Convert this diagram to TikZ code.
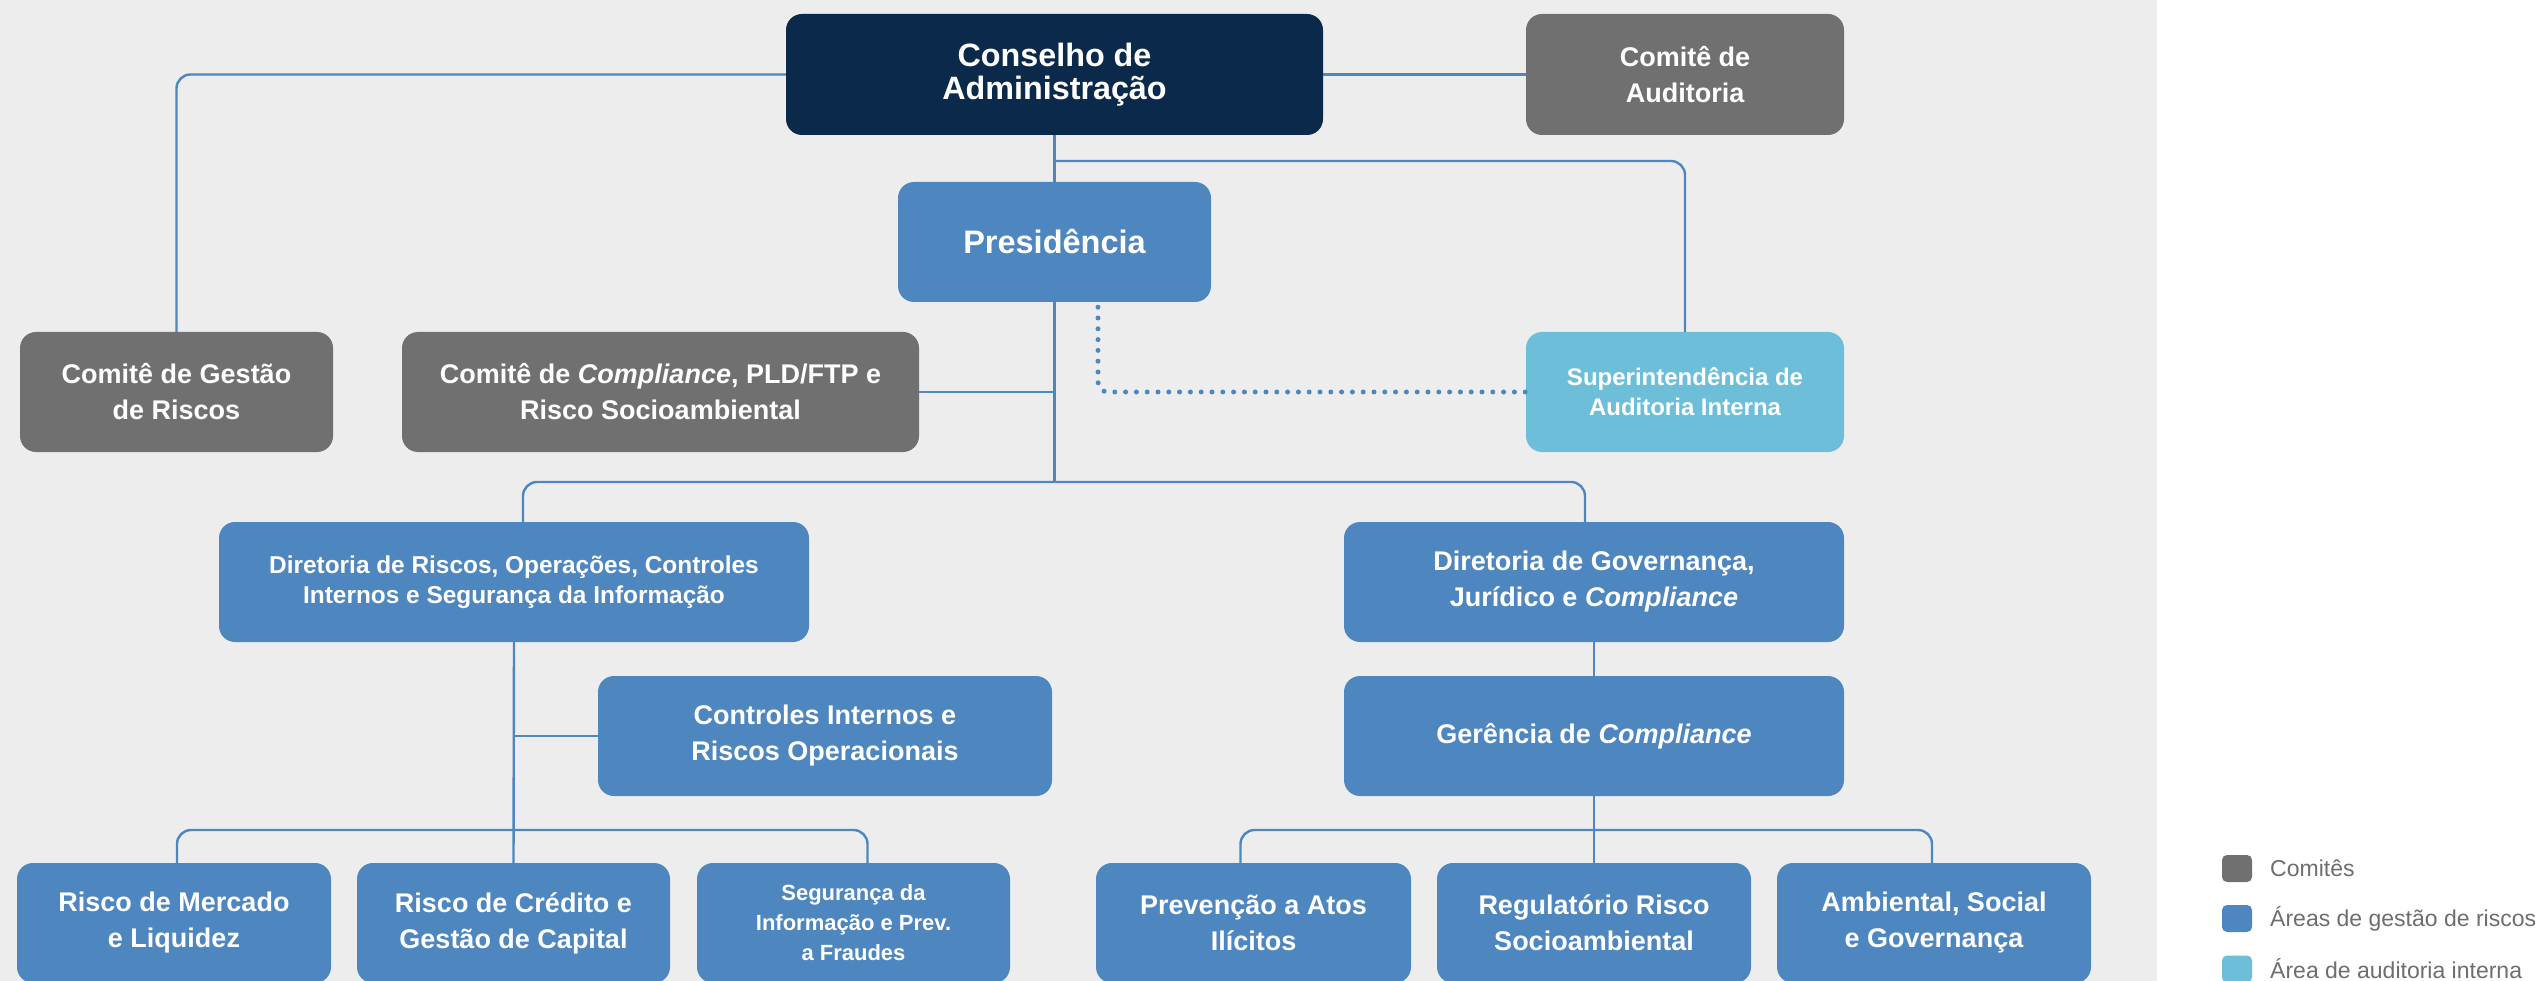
\documentclass[tikz,border=0pt]{standalone}
\usepackage{fontspec}
\setmainfont{Liberation Sans}
\definecolor{bggray}{HTML}{EDEDED}
\definecolor{navy}{HTML}{0B2A4B}
\definecolor{boxgray}{HTML}{707070}
\definecolor{midblue}{HTML}{4E86BF}
\definecolor{lightblue}{HTML}{6DBED9}
\definecolor{legendgray}{HTML}{6E6E6E}
\tikzset{
  boxbase/.style={rectangle, rounded corners=16pt, text=white, align=center, inner sep=0pt,
    font=\bfseries\fontsize{27pt}{36pt}\selectfont},
  navybox/.style={boxbase, fill=navy},
  graybox/.style={boxbase, fill=boxgray},
  bluebox/.style={boxbase, fill=midblue},
  lightbox/.style={boxbase, fill=lightblue},
  conn/.style={draw=midblue, line width=2.4pt, rounded corners=14pt},
  dotconn/.style={draw=midblue, line width=5pt, line cap=round, dash pattern=on 0pt off 10.8pt, rounded corners=10pt},
  legsq/.style={rectangle, rounded corners=5pt, minimum width=30pt, minimum height=27pt, inner sep=0pt},
  legtxt/.style={anchor=west, text=legendgray, font=\fontsize{23pt}{28pt}\selectfont, inner sep=0pt},
}
\begin{document}
\begin{tikzpicture}[x=1pt, y=-1pt]
\useasboundingbox (0,0) rectangle (2541,981);
\fill[white] (0,0) rectangle (2541,981);
\fill[bggray] (0,0) rectangle (2157,981);

% top level
\node[navybox, minimum width=537pt, minimum height=121pt, font=\bfseries\fontsize{32.3pt}{33pt}\selectfont] (cons) at (1054.5,74.5) {Conselho de\\Administração};
\node[graybox, minimum width=318pt, minimum height=121pt] (audit) at (1685,74.5) {Comitê de\\Auditoria};
\node[bluebox, minimum width=313pt, minimum height=120pt, font=\bfseries\fontsize{32.5pt}{33pt}\selectfont] (pres) at (1054.5,242) {Presidência};

% second row
\node[graybox, minimum width=313pt, minimum height=120pt] (gestao) at (176.5,392) {Comitê de Gestão\\de Riscos};
\node[graybox, minimum width=517pt, minimum height=120pt] (compl) at (660.5,392) {Comitê de \textit{Compliance}, PLD/FTP e\\Risco Socioambiental};
\node[lightbox, minimum width=318pt, minimum height=120pt, font=\bfseries\fontsize{24pt}{30pt}\selectfont] (sup) at (1685,392) {Superintendência de\\Auditoria Interna};

% directorates
\node[bluebox, minimum width=590pt, minimum height=120pt, font=\bfseries\fontsize{24.4pt}{30pt}\selectfont] (dir1) at (514,582) {Diretoria de Riscos, Operações, Controles\\Internos e Segurança da Informação};
\node[bluebox, minimum width=500pt, minimum height=120pt] (dir2) at (1594,582) {Diretoria de Governança,\\Jurídico e \textit{Compliance}};
\node[bluebox, minimum width=454pt, minimum height=120pt] (ctrl) at (825,736) {Controles Internos e\\Riscos Operacionais};
\node[bluebox, minimum width=500pt, minimum height=120pt] (ger) at (1594,736) {Gerência de \textit{Compliance}};

% bottom row
\node[bluebox, minimum width=314pt, minimum height=120pt] (merc) at (174,923) {Risco de Mercado\\e Liquidez};
\node[bluebox, minimum width=313pt, minimum height=120pt] (cred) at (513.5,923) {Risco de Crédito e\\Gestão de Capital};
\node[bluebox, minimum width=313pt, minimum height=120pt, font=\bfseries\fontsize{22pt}{30pt}\selectfont] (seg) at (853.5,923) {Segurança da\\Informação e Prev.\\a Fraudes};
\node[bluebox, minimum width=315pt, minimum height=120pt] (prev) at (1253.5,923) {Prevenção a Atos\\Ilícitos};
\node[bluebox, minimum width=314pt, minimum height=120pt] (reg) at (1594,923) {Regulatório Risco\\Socioambiental};
\node[bluebox, minimum width=314pt, minimum height=120pt] (amb) at (1934,923) {Ambiental, Social\\e Governança};

% junction coordinates
\coordinate (j1) at (1054.5,161);
\coordinate (j2) at (1054.5,482);
\coordinate (j3) at (514,830);
\coordinate (j4) at (1594,830);

% connectors
\draw[conn] (cons.west) -| (gestao.north);
\draw[conn] (cons.east) -- (audit.west);
\draw[conn] (cons.south) -- (pres.north);
\draw[conn] (j1) -| (sup.north);
\draw[conn] (pres.south) -- (j2);
\draw[conn] (compl.east) -- (compl.east -| pres.south);
\draw[conn] (j2) -| ([xshift=9pt]dir1.north);
\draw[conn] (j2) -| ([xshift=-9pt]dir2.north);
\draw[conn] (dir1.south) -- (cred.north);
\draw[conn] (ctrl.west) -- (ctrl.west -| dir1.south);
\draw[conn] (j3) -| ([xshift=3pt]merc.north);
\draw[conn] (j3) -| ([xshift=14pt]seg.north);
\draw[conn] (dir2.south) -- (ger.north);
\draw[conn] (ger.south) -- (reg.north);
\draw[conn] (j4) -| ([xshift=-13pt]prev.north);
\draw[conn] (j4) -| ([xshift=-2pt]amb.north);
\draw[dotconn] ([xshift=43.5pt,yshift=-5pt]pres.south) |- (sup.west);

% legend
\node[legsq, fill=boxgray] (lg1) at (2237,868.5) {};
\node[legtxt] (lt1) at (2270,868.5) {Comitês};
\node[legsq, fill=midblue] (lg2) at (2237,918.5) {};
\node[legtxt] (lt2) at (2270,918.5) {Áreas de gestão de riscos};
\node[legsq, fill=lightblue] (lg3) at (2237,969) {};
\node[legtxt] (lt3) at (2270,969) {Área de auditoria interna};
\end{tikzpicture}
\end{document}
